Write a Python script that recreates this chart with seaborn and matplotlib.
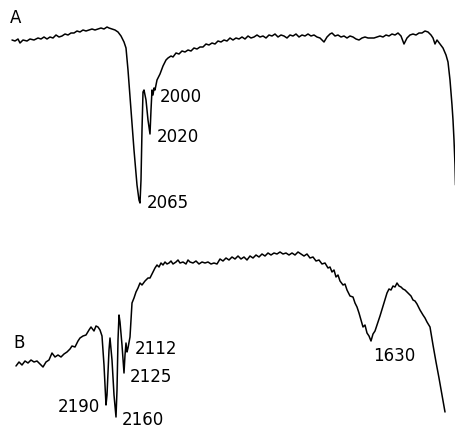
import matplotlib
matplotlib.use("Agg")
import matplotlib.pyplot as plt
import seaborn as sns
import pandas as pd

# Trace A (position, signal)
a_pos = [12, 15, 18, 20, 23, 27, 30, 34, 38, 41, 44, 47, 50, 53, 56, 59, 62, 65, 68, 71,
         74, 77, 80, 83, 86, 89, 92, 95, 98, 101, 104, 107, 109, 112, 115, 118, 121, 124, 126, 128,
         131, 134, 137, 139, 140, 141, 142, 143, 144, 146, 148, 150, 151, 152, 153, 154, 155, 157, 160, 163,
         166, 168, 171, 173, 176, 179, 182, 185, 188, 191, 194, 197, 200, 203, 206, 209, 212, 215, 218, 221,
         224, 227, 230, 233, 236, 239, 242, 245, 248, 251, 254, 257, 260, 263, 266, 269, 272, 275, 278, 281,
         284, 287, 290, 293, 296, 299, 302, 305, 308, 311, 314, 317, 320, 324, 327, 330, 332, 335, 338, 341,
         344, 347, 350, 353, 356, 359, 362, 365, 368, 371, 374, 377, 380, 383, 386, 389, 392, 395, 398, 401,
         404, 407, 410, 413, 416, 419, 422, 425, 428, 431, 433, 435, 437, 440, 443, 446, 448, 450, 452, 453,
         454, 455, 455.5]
a_sig = [40, 41, 39, 43, 40, 41, 39, 40, 38, 39, 37, 39, 37, 38, 35, 37, 36, 34, 35, 33,
         33, 31, 32, 30, 31, 30, 29, 30, 29, 28, 29, 27, 28, 29, 30, 32, 36, 42, 48, 70,
         110, 150, 185, 200, 203, 180, 130, 92, 90, 100, 120, 134, 110, 90, 95, 88, 90, 80, 74, 66,
         60, 58, 56, 57, 53, 54, 51, 52, 50, 51, 48, 49, 47, 47, 44, 45, 43, 44, 41, 42,
         40, 41, 38, 40, 38, 39, 37, 39, 36, 38, 37, 35, 37, 36, 38, 35, 36, 34, 37, 35,
         36, 38, 35, 36, 34, 37, 35, 36, 34, 36, 35, 37, 38, 42, 37, 34, 33, 36, 35, 37,
         36, 38, 36, 37, 39, 40, 38, 37, 38, 38, 38, 37, 36, 37, 35, 36, 34, 35, 33, 36,
         44, 38, 35, 34, 35, 33, 33, 31, 32, 35, 38, 44, 40, 44, 48, 55, 62, 80, 105, 120,
         140, 165, 185]

# Trace B
b_pos = [16, 19, 22, 25, 28, 31, 34, 37, 40, 43, 46, 49, 52, 55, 58, 61, 64, 67, 70, 72,
         75, 78, 80, 83, 86, 89, 91, 94, 96, 98, 100, 102, 104, 106, 107, 109, 110, 112, 114, 116,
         117, 118, 119, 120, 122, 124, 125, 126, 127, 128, 130, 131, 132, 134, 136, 138, 140, 142, 145, 148,
         150, 152, 155, 157, 159, 161, 163, 165, 167, 169, 171, 173, 176, 178, 180, 183, 186, 188, 190, 193,
         196, 199, 202, 205, 208, 211, 214, 217, 220, 223, 226, 229, 232, 235, 238, 241, 244, 247, 250, 253,
         256, 259, 262, 265, 268, 271, 274, 277, 280, 283, 286, 289, 292, 295, 298, 301, 304, 307, 310, 313,
         316, 319, 322, 325, 328, 330, 332, 334, 336, 338, 340, 343, 345, 347, 350, 353, 355, 357, 359, 361,
         363, 365, 367, 369, 371, 373, 375, 377, 380, 383, 385, 387, 389, 391, 393, 395, 397, 399, 401, 403,
         405, 407, 409, 411, 413, 415, 417, 420, 423, 425, 427, 430, 433, 436, 439, 442, 445]
b_sig = [366, 362, 365, 361, 363, 360, 362, 361, 364, 367, 362, 360, 353, 357, 355, 357, 354, 352, 349, 346,
         347, 341, 338, 336, 335, 330, 327, 331, 326, 327, 330, 336, 365, 405, 395, 350, 338, 360, 395, 417,
         390, 340, 315, 322, 345, 373, 355, 343, 352, 348, 337, 320, 303, 298, 292, 288, 283, 285, 281, 278,
         278, 274, 268, 265, 267, 263, 265, 262, 264, 263, 261, 264, 262, 260, 263, 262, 264, 260, 262, 263,
         261, 264, 262, 263, 262, 264, 263, 264, 259, 261, 258, 260, 257, 259, 256, 259, 257, 260, 256, 258,
         255, 257, 254, 256, 253, 255, 253, 254, 252, 254, 253, 255, 253, 255, 252, 254, 256, 254, 258, 257,
         261, 260, 264, 263, 268, 267, 272, 270, 277, 275, 281, 285, 284, 290, 296, 297, 303, 307, 313, 320,
         327, 325, 333, 336, 341, 334, 331, 325, 316, 306, 299, 293, 289, 290, 286, 287, 283, 286, 287, 289,
         290, 292, 294, 296, 300, 301, 304, 310, 315, 318, 322, 327, 345, 362, 378, 395, 412]

# Annotations
a_labels = ["2065", "2020", "2000"]
a_label_pos = [(147, 203), (157, 137), (160, 97)]
b_labels = ["2112", "2125", "2190", "2160", "1630"]
b_label_pos = [(135, 349), (130, 377), (100, 407), (122, 420), (373, 356)]
panel_labels = ["A", "B"]
panel_label_pos = [(16, 18), (19, 343)]

sns.set_style("white")
fig = plt.figure(figsize=(4.56, 4.28), dpi=100)
ax = fig.add_axes([0, 0, 1, 1])

df_a = pd.DataFrame({"pos": a_pos, "sig": a_sig})
df_b = pd.DataFrame({"pos": b_pos, "sig": b_sig})
sns.lineplot(data=df_a, x="pos", y="sig", sort=False, estimator=None, color="black", lw=1.1, ax=ax)
sns.lineplot(data=df_b, x="pos", y="sig", sort=False, estimator=None, color="black", lw=1.1, ax=ax)

ax.set_xlim(0, 456)
ax.set_ylim(428, 0)
ax.axis("off")

fs = 12
for t, (x, y) in zip(a_labels, a_label_pos):
    ax.text(x, y, t, ha="left", va="center", fontsize=fs, color="black")
for t, (x, y) in zip(b_labels, b_label_pos):
    ha = "right" if t == "2190" else "left"
    ax.text(x, y, t, ha=ha, va="center", fontsize=fs, color="black")
for t, (x, y) in zip(panel_labels, panel_label_pos):
    ax.text(x, y, t, ha="center", va="center", fontsize=fs, color="black")

fig.savefig("out.png", dpi=100, facecolor="white")
